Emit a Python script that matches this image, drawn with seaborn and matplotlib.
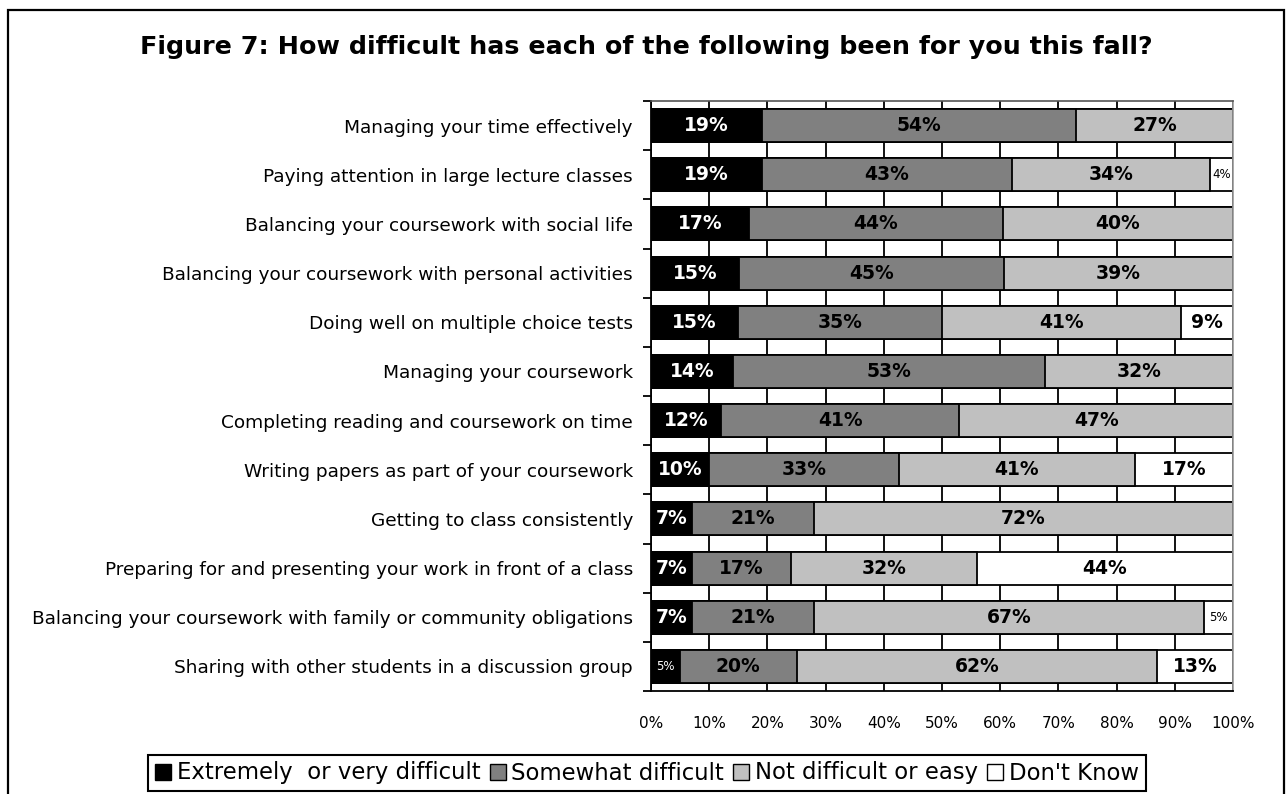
import numpy as np
import pandas as pd
import matplotlib
matplotlib.use("Agg")
import matplotlib.pyplot as plt
from matplotlib.patches import Rectangle, Patch
from matplotlib.ticker import FixedLocator
import seaborn as sns

# ---------------- data ----------------
items = [
    "Managing your time effectively",
    "Paying attention in large lecture classes",
    "Balancing your coursework with social life",
    "Balancing your coursework with personal activities",
    "Doing well on multiple choice tests",
    "Managing your coursework",
    "Completing reading and coursework on time",
    "Writing papers as part of your coursework",
    "Getting to class consistently",
    "Preparing for and presenting your work in front of a class",
    "Balancing your coursework with family or community obligations",
    "Sharing with other students in a discussion group",
]
extremely = [19, 19, 17, 15, 15, 14, 12, 10, 7, 7, 7, 5]
somewhat = [54, 43, 44, 45, 35, 53, 41, 33, 21, 17, 21, 20]
not_difficult = [27, 34, 40, 39, 41, 32, 47, 41, 72, 32, 67, 62]
dont_know = [0, 4, 0, 0, 9, 0, 0, 17, 0, 44, 5, 13]

series_names = ["Extremely  or very difficult", "Somewhat difficult",
                "Not difficult or easy", "Don't Know"]
series_colors = ["#000000", "#808080", "#c0c0c0", "#ffffff"]
label_colors = ["white", "black", "black", "black"]
xtick_vals = list(range(0, 101, 10))
xtick_labels = [f"{v}%" for v in xtick_vals]
title = "Figure 7: How difficult has each of the following been for you this fall?"

# ---------------- style ----------------
sns.set_theme(style="white")
plt.rcParams["font.family"] = ["DejaVu Sans"]
plt.rcParams["text.color"] = "black"
plt.rcParams["axes.labelcolor"] = "black"
plt.rcParams["xtick.color"] = "black"
plt.rcParams["ytick.color"] = "black"
plt.rcParams["legend.labelcolor"] = "black"

vals = np.array([extremely, somewhat, not_difficult, dont_know], dtype=float)
norm = vals / vals.sum(axis=0) * 100.0
cum = np.cumsum(norm, axis=0)

fig = plt.figure(figsize=(12.86, 7.94), dpi=100)
fig.patch.set_facecolor("white")

# outer frame
fig.add_artist(Rectangle((8 / 1286, -0.05), (1284 - 8) / 1286, (794 - 10) / 794 + 0.05,
                         transform=fig.transFigure, fill=False, edgecolor="black",
                         linewidth=1.6, clip_on=False))

ax = fig.add_axes([651 / 1286, 1 - 691 / 794, 582 / 1286, 590 / 794])
ax.set_facecolor("white")

# stacked bars drawn as cumulative layers (largest first)
for k in range(3, -1, -1):
    df = pd.DataFrame({"item": items, "value": cum[k]})
    sns.barplot(data=df, x="value", y="item", order=items, orient="h",
                color=series_colors[k], saturation=1, edgecolor="black",
                linewidth=1.3, width=0.67, ax=ax, errorbar=None)

# value labels
for k in range(4):
    for i in range(len(items)):
        v = vals[k, i]
        if v <= 0:
            continue
        xc = cum[k, i] - norm[k, i] / 2
        if v < 6:
            ax.text(xc, i, f"{int(v)}%", ha="center", va="center", fontsize=8.5,
                    color=label_colors[k])
        else:
            ax.text(xc, i, f"{int(v)}%", ha="center", va="center", fontsize=13.5,
                    fontweight="bold", color=label_colors[k])

ax.set_xlim(0, 100)
ax.set_ylim(len(items) - 0.5, -0.5)
ax.set_xticks(xtick_vals)
ax.set_xticklabels(xtick_labels)
ax.set_xlabel("")
ax.set_ylabel("")
ax.tick_params(axis="x", direction="inout", length=10, width=1.3, colors="black",
               labelsize=11, pad=13)
ax.tick_params(axis="y", which="major", length=0, labelsize=13.3, pad=13,
               labelcolor="black")
ax.yaxis.set_minor_locator(FixedLocator([i - 0.5 for i in range(len(items) + 1)]))
ax.tick_params(axis="y", which="minor", direction="out", length=6, width=1.3,
               color="black", left=True)

ax.xaxis.grid(True, color="black", linewidth=1.3)
ax.yaxis.grid(False)
ax.set_axisbelow(True)

for side in ["left", "bottom"]:
    ax.spines[side].set_color("black")
    ax.spines[side].set_linewidth(1.3)
ax.spines["top"].set_color("#555555")
ax.spines["top"].set_linewidth(1.2)
ax.spines["right"].set_color("#999999")
ax.spines["right"].set_linewidth(1.2)

# title
fig.text(646 / 1286, 1 - 47 / 794, title, ha="center", va="center",
         fontsize=18.3, fontweight="bold", color="black")

# legend
handles = [Patch(facecolor=c, edgecolor="black", linewidth=1.0) for c in series_colors]
leg = fig.legend(handles, series_names, loc="center", ncol=4,
                 bbox_to_anchor=(647 / 1286, 1 - 773 / 794), fontsize=16.4,
                 frameon=True, fancybox=False, framealpha=1, edgecolor="black",
                 handlelength=0.7, handleheight=0.7, handletextpad=0.25,
                 columnspacing=0.4, borderpad=0.3)
leg.get_frame().set_linewidth(1.5)
for t in leg.get_texts():
    t.set_color("black")

fig.savefig("out.png", dpi=100, facecolor="white")
